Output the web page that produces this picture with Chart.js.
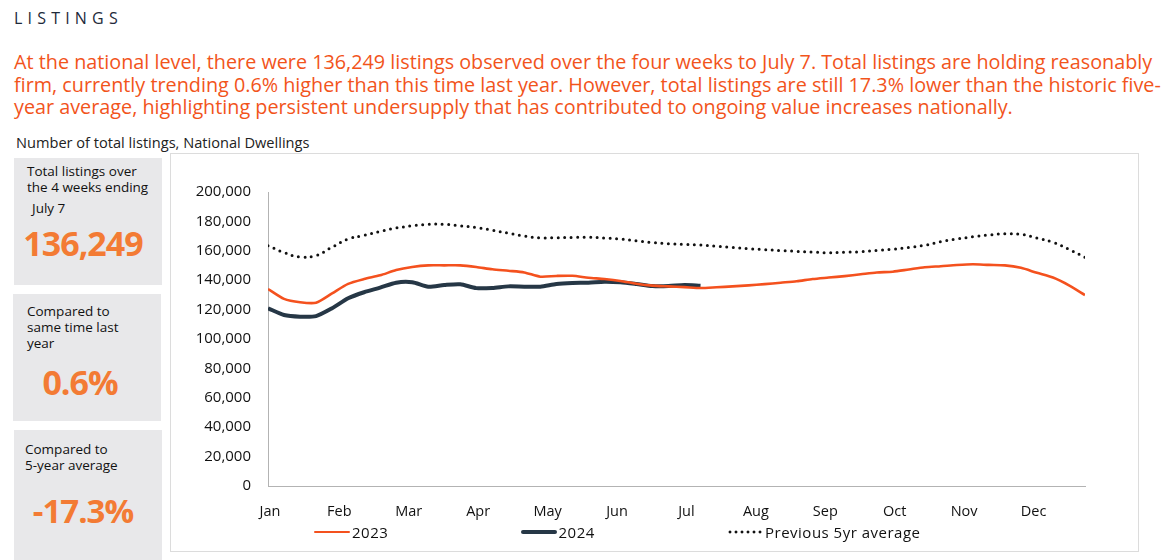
<!DOCTYPE html>
<html>
<head>
<meta charset="utf-8">
<script src="https://cdn.jsdelivr.net/npm/chart.js@4.4.0/dist/chart.umd.min.js"></script>
<style>
  body{margin:0;width:1161px;height:560px;background:#fff;font-family:"Open Sans",sans-serif;color:#1a1a1a;position:relative;overflow:hidden}
  .abs{position:absolute}
  #title{left:14px;top:7px;font-size:16px;letter-spacing:5.2px;color:#1e2a3a;font-weight:500}
  #intro{left:14px;top:51px;font-size:19.8px;line-height:22.6px;color:#f2541b;white-space:nowrap}
  #sub{left:16px;top:132px;font-size:14.6px;color:#222}
  .box{position:absolute;background:#e8e8ea;width:148px}
  .box .lbl{position:absolute;font-size:13.5px;line-height:16px;color:#111;white-space:nowrap}
  .box .big{position:absolute;left:-5px;width:100%;text-align:center;font-weight:700;color:#f37b34;letter-spacing:-1px}
  #frame{left:170px;top:153px;width:967px;height:397px;border:1px solid #dcdcdc}
  #wrap{left:170px;top:153px;width:969px;height:370px}
  #legend{left:314px;top:522px;display:flex;font-size:15px;letter-spacing:0.5px;color:#111}
  #legend .it{width:206.5px;display:flex;align-items:center;height:20px}
  #legend .sw{width:36px;margin-right:2px}
</style>
</head>
<body>
<div id="title" class="abs">LISTINGS</div>
<div id="intro" class="abs">At the national level, there were 136,249 listings observed over the four weeks to July 7. Total listings are holding reasonably<br>firm, currently trending 0.6% higher than this time last year. However, total listings are still 17.3% lower than the historic five-<br>year average, highlighting persistent undersupply that has contributed to ongoing value increases nationally.</div>
<div id="sub" class="abs">Number of total listings, National Dwellings</div>

<div class="box" style="left:14px;top:158px;height:127px">
  <div class="lbl" style="left:13px;top:5px">Total listings over<br>the 4 weeks ending</div>
  <div class="lbl" style="left:18px;top:42px">July 7</div>
  <div class="big" style="top:62px;font-size:34px">136,249</div>
</div>
<div class="box" style="left:13px;top:294px;height:127px">
  <div class="lbl" style="left:14px;top:9px">Compared to<br>same time last<br>year</div>
  <div class="big" style="top:65px;font-size:34px;left:-7px">0.6%</div>
</div>
<div class="box" style="left:14px;top:430px;height:140px">
  <div class="lbl" style="left:11px;top:11px">Compared to<br>5-year average</div>
  <div class="big" style="top:58px;font-size:33px">-17.3%</div>
</div>

<div id="frame" class="abs"></div>
<div id="wrap" class="abs"><canvas id="c"></canvas></div>
<div id="legend" class="abs"></div>

<script>
// weekly values, week 1 = first week of January
const months = ['Jan','Feb','Mar','Apr','May','Jun','Jul','Aug','Sep','Oct','Nov','Dec'];
const weeksPerMonth = 52 / 12;

const listings2023 = [
  134000,127300,125000,124700,131000,137500,140800,143300,146900,149000,150100,150100,150100,
  149000,147400,146400,145300,142400,142900,143000,141700,140800,139500,137600,136300,135800,
  135300,134700,135200,135800,136500,137300,138300,139300,140800,141800,142800,144000,145200,
  145800,147300,148800,149500,150300,150800,150400,150100,148400,145000,141800,136500,129900
];
const listings2024 = [
  120900,116300,115200,115600,120900,127700,131800,134900,138300,138600,135600,136700,137200,
  134600,134700,135800,135600,135600,137400,138100,138300,139000,138600,137400,136000,136000,
  136700,136249
];
const avg5yr = [
  163500,158800,155800,156800,162500,168000,170500,173200,175500,177000,178000,178000,177000,
  175800,174000,172000,170000,168800,168900,169100,169200,168700,168000,166800,165600,164800,
  164300,164000,163100,162300,161500,160800,160200,159600,159100,158700,159000,159400,160200,
  161100,162300,163800,166200,168000,169600,170800,171600,171200,168700,165800,161000,155500
];

const seriesNames = ['2023','2024','Previous 5yr average'];
const seriesColors = ['#f4511e','#263746','#111111'];

function pts(arr){ return arr.map((v,i)=>({x:i, y:v})); }

const datasets = [
  {label:seriesNames[0], data:pts(listings2023), borderColor:seriesColors[0], borderWidth:2.6, tension:0.25},
  {label:seriesNames[1], data:pts(listings2024), borderColor:seriesColors[1], borderWidth:4, tension:0.25},
  {label:seriesNames[2], data:pts(avg5yr), borderColor:seriesColors[2], borderWidth:3, tension:0.4,
   borderDash:[0,6.5], borderCapStyle:'round'}
];
datasets.forEach(d=>{ d.pointRadius=0; d.fill=false; });

new Chart(document.getElementById('c'), {
  type:'line',
  data:{datasets},
  options:{
    responsive:true, maintainAspectRatio:false, animation:false,
    layout:{padding:{top:39,right:54,left:0,bottom:0}},
    plugins:{legend:{display:false}, tooltip:{enabled:false}},
    scales:{
      x:{
        type:'linear', min:0, max:51,
        grid:{display:false, drawTicks:false},
        border:{display:true, color:'#b3b3b3', width:1},
        afterBuildTicks: s=>{ s.ticks = months.map((m,i)=>({value:i*weeksPerMonth + 0.12})); },
        afterFit: s=>{ s.height = 37; },
        ticks:{padding:17, color:'#111', font:{family:'Open Sans', size:14.5},
          maxRotation:0, autoSkip:false,
          callback:(v,i)=>months[i]}
      },
      y:{
        min:0, max:200000,
        grid:{display:false, drawTicks:false},
        border:{display:true, color:'#b3b3b3', width:1},
        afterFit: s=>{ s.width = 98; },
        ticks:{stepSize:20000, padding:17, color:'#111', font:{family:'Open Sans', size:15},
          callback:v=>v.toLocaleString('en-US')}
      }
    }
  }
});

// legend
const lg = document.getElementById('legend');
datasets.forEach((d,i)=>{
  const it = document.createElement('div'); it.className='it';
  const sw = document.createElement('span'); sw.className='sw';
  if (d.borderDash) {
    sw.style.height='6px';
    sw.style.background='radial-gradient(circle, '+d.borderColor+' 1.3px, transparent 1.7px) 0 0/6px 6px repeat-x';
  } else {
    sw.style.height = d.borderWidth+'px';
    sw.style.background = d.borderColor;
    sw.style.borderRadius = '2px';
  }
  const tx = document.createElement('span'); tx.textContent = d.label;
  it.appendChild(sw); it.appendChild(tx); lg.appendChild(it);
});
</script>
</body>
</html>
